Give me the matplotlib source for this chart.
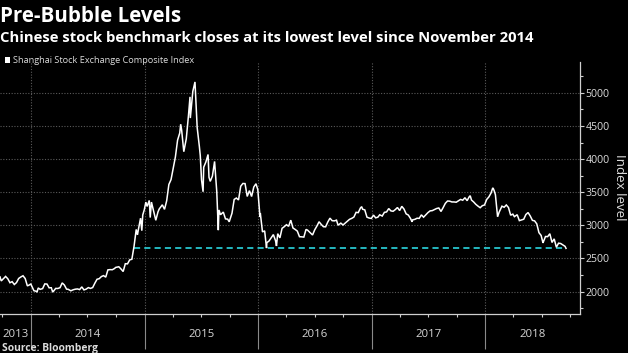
import matplotlib
matplotlib.use('Agg')
import matplotlib.pyplot as plt
import matplotlib.dates as mdates
import matplotlib.transforms as mtransforms
from matplotlib.ticker import MultipleLocator
import pandas as pd

plt.rcParams['font.family'] = ['Open Sans', 'DejaVu Sans']

# ---------------- data (approximate closes) ----------------
dates_2013 = ['2013-09-23', '2013-09-27', '2013-10-11', '2013-10-18', '2013-10-25', '2013-11-01',
              '2013-11-08', '2013-11-15', '2013-11-22', '2013-11-29', '2013-12-06', '2013-12-13',
              '2013-12-20', '2013-12-27', '2013-12-31']
close_2013 = [2221, 2160, 2228, 2193, 2133, 2149, 2106, 2135, 2197, 2220, 2238, 2196, 2085, 2101, 2116]

dates_2014 = ['2014-01-03', '2014-01-10', '2014-01-17', '2014-01-20', '2014-01-24', '2014-01-30',
              '2014-02-07', '2014-02-14', '2014-02-21', '2014-02-28', '2014-03-07', '2014-03-11',
              '2014-03-14', '2014-03-21', '2014-03-28', '2014-04-04', '2014-04-11', '2014-04-18',
              '2014-04-25', '2014-04-30', '2014-05-09', '2014-05-16', '2014-05-23', '2014-05-30',
              '2014-06-06', '2014-06-13', '2014-06-20', '2014-06-27', '2014-07-04', '2014-07-11',
              '2014-07-18', '2014-07-25', '2014-08-01', '2014-08-08', '2014-08-15', '2014-08-22',
              '2014-08-29', '2014-09-05', '2014-09-12', '2014-09-19', '2014-09-26', '2014-09-30',
              '2014-10-10', '2014-10-17', '2014-10-24', '2014-10-31', '2014-11-07', '2014-11-14',
              '2014-11-21', '2014-11-28', '2014-12-05', '2014-12-09', '2014-12-12', '2014-12-19',
              '2014-12-23', '2014-12-26', '2014-12-31']
close_2014 = [2083, 2013, 2004, 1991, 2054, 2033, 2044, 2115, 2113, 2056, 2057, 1998, 2004, 2047,
              2046, 2058, 2130, 2098, 2036, 2034, 2011, 2026, 2035, 2039, 2029, 2070, 2024, 2036,
              2059, 2047, 2060, 2126, 2185, 2194, 2226, 2240, 2217, 2327, 2331, 2329, 2347, 2364,
              2374, 2341, 2302, 2420, 2418, 2478, 2487, 2683, 2938, 2856, 2938, 3108, 2919, 3157,
              3235]

dates_2015 = ['2015-01-05', '2015-01-09', '2015-01-16', '2015-01-19', '2015-01-23', '2015-01-30',
              '2015-02-06', '2015-02-13', '2015-02-17', '2015-02-27', '2015-03-06', '2015-03-13',
              '2015-03-20', '2015-03-27', '2015-04-03', '2015-04-10', '2015-04-17', '2015-04-24',
              '2015-04-27', '2015-04-30', '2015-05-07', '2015-05-15', '2015-05-22', '2015-05-27',
              '2015-05-28', '2015-06-05', '2015-06-12', '2015-06-19', '2015-06-26', '2015-06-29',
              '2015-07-03', '2015-07-08', '2015-07-10', '2015-07-17', '2015-07-24', '2015-07-27',
              '2015-07-31', '2015-08-07', '2015-08-14', '2015-08-21', '2015-08-26', '2015-08-28',
              '2015-09-02', '2015-09-11', '2015-09-18', '2015-09-25', '2015-09-30', '2015-10-09',
              '2015-10-16', '2015-10-23', '2015-10-30', '2015-11-06', '2015-11-13', '2015-11-20',
              '2015-11-27', '2015-12-04', '2015-12-11', '2015-12-18', '2015-12-25', '2015-12-31']
close_2015 = [3351, 3285, 3376, 3117, 3351, 3210, 3076, 3203, 3247, 3310, 3241, 3372, 3617, 3691,
              3863, 4034, 4287, 4394, 4527, 4441, 4112, 4308, 4658, 4941, 4620, 5023, 5166, 4478,
              4193, 4053, 3687, 3507, 3878, 3957, 4070, 3726, 3664, 3744, 3965, 3508, 2927, 3232,
              3160, 3200, 3097, 3093, 3053, 3183, 3391, 3412, 3383, 3590, 3632, 3630, 3436, 3524,
              3435, 3578, 3628, 3539]

dates_2016 = ['2016-01-04', '2016-01-07', '2016-01-08', '2016-01-15', '2016-01-22', '2016-01-26',
              '2016-01-28', '2016-01-29', '2016-02-05', '2016-02-19', '2016-02-26', '2016-02-29',
              '2016-03-04', '2016-03-11', '2016-03-18', '2016-03-25', '2016-04-01', '2016-04-08',
              '2016-04-15', '2016-04-22', '2016-04-29', '2016-05-06', '2016-05-13', '2016-05-20',
              '2016-05-27', '2016-06-03', '2016-06-08', '2016-06-17', '2016-06-24', '2016-07-01',
              '2016-07-08', '2016-07-15', '2016-07-22', '2016-07-29', '2016-08-05', '2016-08-12',
              '2016-08-19', '2016-08-26', '2016-09-02', '2016-09-09', '2016-09-14', '2016-09-23',
              '2016-09-30', '2016-10-14', '2016-10-21', '2016-10-28', '2016-11-04', '2016-11-11',
              '2016-11-18', '2016-11-25', '2016-11-29', '2016-12-02', '2016-12-09', '2016-12-16',
              '2016-12-23', '2016-12-30']
close_2016 = [3296, 3125, 3186, 2901, 2916, 2750, 2656, 2738, 2763, 2860, 2767, 2688, 2874, 2810,
              2955, 2979, 3009, 2985, 3078, 2960, 2938, 2913, 2828, 2826, 2822, 2938, 2927, 2885,
              2854, 2932, 2989, 3054, 3013, 2979, 2977, 3050, 3108, 3070, 3067, 3078, 3002, 3033,
              3005, 3063, 3091, 3105, 3125, 3196, 3192, 3262, 3282, 3243, 3233, 3123, 3110, 3104]

dates_2017 = ['2017-01-06', '2017-01-13', '2017-01-20', '2017-01-26', '2017-02-03', '2017-02-10',
              '2017-02-17', '2017-02-24', '2017-03-03', '2017-03-10', '2017-03-17', '2017-03-24',
              '2017-03-31', '2017-04-07', '2017-04-14', '2017-04-21', '2017-04-28', '2017-05-05',
              '2017-05-10', '2017-05-12', '2017-05-19', '2017-05-26', '2017-06-02', '2017-06-09',
              '2017-06-16', '2017-06-23', '2017-06-30', '2017-07-07', '2017-07-14', '2017-07-21',
              '2017-07-28', '2017-08-04', '2017-08-11', '2017-08-18', '2017-08-25', '2017-09-01',
              '2017-09-08', '2017-09-15', '2017-09-22', '2017-09-29', '2017-10-13', '2017-10-20',
              '2017-10-27', '2017-11-03', '2017-11-10', '2017-11-13', '2017-11-17', '2017-11-24',
              '2017-12-01', '2017-12-08', '2017-12-15', '2017-12-22', '2017-12-29']
close_2017 = [3154, 3113, 3123, 3159, 3140, 3196, 3202, 3253, 3218, 3212, 3237, 3269, 3223, 3287,
              3246, 3173, 3155, 3103, 3053, 3083, 3090, 3107, 3105, 3158, 3123, 3158, 3192, 3218,
              3222, 3238, 3254, 3262, 3209, 3268, 3332, 3367, 3365, 3353, 3353, 3349, 3391, 3379,
              3417, 3372, 3433, 3447, 3382, 3353, 3317, 3290, 3266, 3297, 3307]

dates_2018 = ['2018-01-05', '2018-01-12', '2018-01-19', '2018-01-24', '2018-01-26', '2018-01-29',
              '2018-02-02', '2018-02-09', '2018-02-14', '2018-02-23', '2018-03-02', '2018-03-09',
              '2018-03-16', '2018-03-23', '2018-03-30', '2018-04-04', '2018-04-13', '2018-04-20',
              '2018-04-27', '2018-05-04', '2018-05-11', '2018-05-18', '2018-05-25', '2018-06-01',
              '2018-06-08', '2018-06-15', '2018-06-22', '2018-06-29', '2018-07-05', '2018-07-06',
              '2018-07-13', '2018-07-20', '2018-07-27', '2018-08-03', '2018-08-10', '2018-08-17',
              '2018-08-24', '2018-08-31', '2018-09-07', '2018-09-14', '2018-09-17']
close_2018 = [3391, 3429, 3488, 3559, 3558, 3523, 3462, 3129, 3199, 3289, 3273, 3307, 3269, 3153,
              3169, 3131, 3160, 3071, 3082, 3092, 3163, 3193, 3141, 3075, 3067, 3022, 2889, 2847,
              2734, 2747, 2831, 2829, 2873, 2741, 2795, 2669, 2730, 2725, 2703, 2682, 2652]

# reference level (close of 2018-09-17, lowest since Nov 2014)
ref_level = 2652
ref_start = '2014-11-28'
ref_end = '2018-09-17'

year_labels = ['2013', '2014', '2015', '2016', '2017', '2018']
y_ticks = [2000, 2500, 3000, 3500, 4000, 4500, 5000]

title = 'Pre-Bubble Levels'
subtitle = 'Chinese stock benchmark closes at its lowest level since November 2014'
legend_label = 'Shanghai Stock Exchange Composite Index'
source = 'Source: Bloomberg'
y_label = 'Index level'

# ---------------- build series ----------------
dates = pd.to_datetime(dates_2013 + dates_2014 + dates_2015 + dates_2016 + dates_2017 + dates_2018)
closes = close_2013 + close_2014 + close_2015 + close_2016 + close_2017 + close_2018

# ---------------- figure ----------------
W, H = 628, 353
fig = plt.figure(figsize=(W / 100, H / 100), dpi=100, facecolor='black')
ax = fig.add_axes([0, 1 - 313.5 / H, 580 / W, (313.5 - 62) / H], facecolor='black')

ax.plot(dates, closes, color='white', lw=1.1, solid_joinstyle='miter', zorder=3)
ax.plot(pd.to_datetime([ref_start, ref_end]), [ref_level, ref_level], color='#27c6cf',
        lw=1.3, dashes=(3.4, 2.3), zorder=2)

xmin = pd.Timestamp('2013-09-23')
xmax = pd.Timestamp('2018-11-01')
ax.set_xlim(xmin, xmax)
ax.set_ylim(1668, 5467)

# axes styling
for s in ['left', 'top']:
    ax.spines[s].set_visible(False)
for s in ['right', 'bottom']:
    ax.spines[s].set_color('#cfcfcf')
    ax.spines[s].set_linewidth(0.9)

ax.yaxis.tick_right()
ax.set_yticks(y_ticks)
ax.yaxis.set_minor_locator(MultipleLocator(250))
ax.tick_params(axis='y', which='major', colors='#cfcfcf', length=3, width=0.8, pad=1,
               labelsize=7.6, labelcolor='#dcdcdc')
ax.tick_params(axis='y', which='minor', colors='#cfcfcf', length=2.5, width=0.8)

ax.xaxis.set_major_locator(mdates.YearLocator())
ax.xaxis.set_minor_locator(mdates.MonthLocator(bymonth=[4, 7, 10]))
ax.xaxis.set_major_formatter(plt.NullFormatter())
ax.tick_params(axis='x', which='major', colors='#8a8a8a', length=25, width=0.8)
ax.tick_params(axis='x', which='minor', colors='#cfcfcf', length=2.5, width=0.8)

ax.grid(True, which='major', color='#5a5a5a', lw=0.8, ls=(0, (1, 1.5)), zorder=0)

# year labels centred in each year span
trans = mtransforms.blended_transform_factory(ax.transData, ax.transAxes)
for lab in year_labels:
    y = int(lab)
    a = max(pd.Timestamp(f'{y}-01-01'), xmin)
    b = min(pd.Timestamp(f'{y + 1}-01-01'), xmax)
    mid = a + (b - a) / 2
    ax.text(mid, -0.085, lab, transform=trans, ha='center', va='center',
            color='#d6d6d6', fontsize=8.2, clip_on=False)

ax.text(1.068, 0.5, y_label, transform=ax.transAxes, rotation=270, ha='center', va='center',
        color='#dcdcdc', fontsize=9.6)

# titles
fig.text(0.0, 1 - 22.5 / H, title, color='white', fontsize=14.8, fontweight='bold', va='baseline', ha='left')
fig.text(0.0, 1 - 42.5 / H, subtitle, color='white', fontsize=10.7, fontweight='bold', va='baseline', ha='left')
fig.text(13 / W, 1 - 63 / H, legend_label, color='#dcdcdc', fontsize=6.6, va='baseline', ha='left')
fig.patches.append(plt.Rectangle((4.5 / W, 1 - 63 / H), 5.5 / W, 6 / H, transform=fig.transFigure,
                                 facecolor='white', edgecolor='none'))
fig.text(2 / W, 1 - 350.5 / H, source, color='#dcdcdc', fontsize=7.4, fontweight='bold', va='baseline', ha='left')

fig.savefig('out.png', dpi=100, facecolor='black')
